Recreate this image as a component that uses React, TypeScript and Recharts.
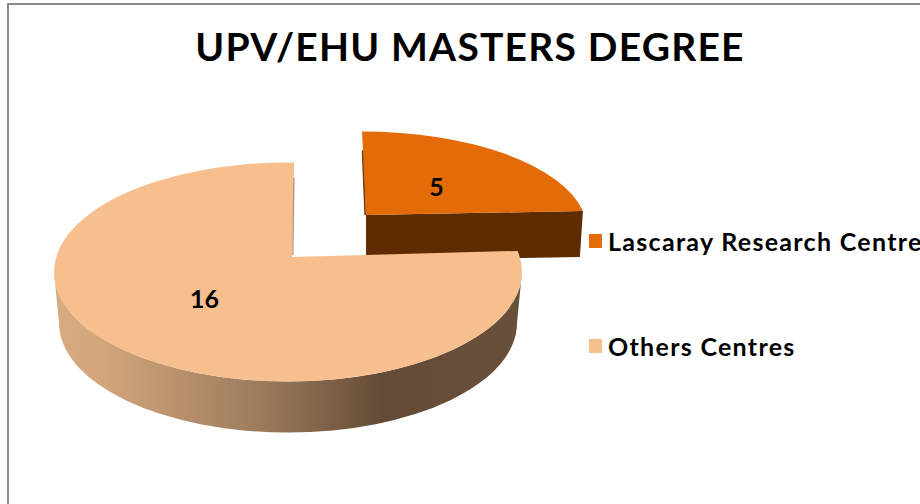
import React from "react";
import { PieChart, Pie, Legend } from "recharts";

const categories = ["Lascaray Research Centres", "Others Centres"];
const values = [5, 16];
const fills = ["#e36c09", "#f7bf8e"];
const titleText = "UPV/EHU MASTERS DEGREE";

const rows = categories.map((name, i) => ({ name, value: values[i], fill: fills[i] }));

const FONT = "Lato, sans-serif";
const RY_RATIO = 110 / 235;
const DEPTH = 51;

const explode = [
  { dx: 74, dy: -42, k: 0.962, ryk: 0.9 },
  { dx: 0, dy: 0, k: 1, ryk: 1 },
];

function geometry(props: any, index: number) {
  const e = explode[index] ?? explode[1];
  const cx = props.cx + e.dx;
  const cy = props.cy + e.dy;
  const rx = props.outerRadius * e.k;
  const ry = props.outerRadius * RY_RATIO * e.ryk;
  const apex = { x: props.cx + e.dx + 4, y: props.cy + e.dy - 15 };
  const point = (rechartsAngle: number) => {
    const a = 90 - rechartsAngle;
    const r = (a * Math.PI) / 180;
    const t = ((a - 7.2 * Math.sin(r) + 1.5 * (a / 360)) * Math.PI) / 180;
    return { x: cx + rx * Math.sin(t), y: cy - ry * Math.cos(t) };
  };
  return { cx, cy, rx, ry, apex, point };
}

function Slice3D(props: any) {
  const index: number = props.index ?? (props.name === categories[0] ? 0 : 1);
  const { cx, cy, rx, ry, apex, point } = geometry(props, index);
  const s = point(props.startAngle);
  const e = point(props.endAngle);
  const large = Math.abs(props.endAngle - props.startAngle) > 180 ? 1 : 0;
  const top = `M${apex.x},${apex.y} L${s.x},${s.y} A${rx},${ry} 0 ${large} 1 ${e.x},${e.y} Z`;

  if (index === 0) {
    return (
      <g>
        <path
          d={`M${apex.x},${apex.y} L${e.x},${e.y} L${e.x - 3},${e.y + 46} L${apex.x},${apex.y + 46} Z`}
          fill="#5e2c00"
        />
        <path
          d={`M${s.x - 0.3},${s.y + 19} L${apex.x - 1.6},${apex.y} L${apex.x},${apex.y} L${s.x + 2},${s.y + 19} Z`}
          fill="#6b3a10"
        />
        <path d={top} fill={props.fill} />
      </g>
    );
  }

  const brx = rx - 5;
  const wall = `M${cx + rx},${cy} A${rx},${ry} 0 0 1 ${cx - rx},${cy} L${cx - brx},${cy + DEPTH} A${brx},${ry} 0 0 0 ${cx + brx},${cy + DEPTH} Z`;
  return (
    <g>
      <defs>
        <linearGradient id="wallShade" x1="0" y1="0" x2="1" y2="0">
          <stop offset="0" stopColor="#d9ab81" />
          <stop offset="0.1" stopColor="#d3a67c" />
          <stop offset="0.45" stopColor="#9a7a5b" />
          <stop offset="0.7" stopColor="#654b36" />
          <stop offset="1" stopColor="#69503a" />
        </linearGradient>
      </defs>
      <path d={wall} fill="url(#wallShade)" />
      <path d={top} fill={props.fill} />
      <path
        d={`M${apex.x + 0.8},${apex.y - 2} L${e.x - 0.2},${e.y + 15}`}
        stroke="#b8977a"
        strokeWidth={1.4}
        fill="none"
      />
    </g>
  );
}

const labelReach = [
  { x: 0.46, y: 0.4 },
  { x: 0.55, y: 0.51 },
];

function sliceLabel(props: any) {
  const index: number = props.index;
  const { rx, ry, apex } = geometry(props, index);
  const a = ((90 - props.midAngle) * Math.PI) / 180;
  const reach = labelReach[index];
  return (
    <text
      x={apex.x + reach.x * rx * Math.sin(a)}
      y={apex.y - reach.y * ry * Math.cos(a)}
      textAnchor="middle"
      dominantBaseline="central"
      fontFamily={FONT}
      fontWeight={700}
      fontSize={25}
      fill="#000"
    >
      {props.value}
    </text>
  );
}

function LegendList({ payload }: any) {
  return (
    <div style={{ fontFamily: FONT, fontWeight: 700, fontSize: 25, letterSpacing: 1.3, color: "#000" }}>
      {(payload ?? []).map((item: any, i: number) => (
        <div
          key={item.value}
          style={{ display: "flex", alignItems: "center", height: 30, marginBottom: i === 0 ? 75 : 0, whiteSpace: "nowrap" }}
        >
          <span style={{ width: 13, height: 14, background: fills[i], marginRight: 6, flex: "none" }} />
          <span>{item.value}</span>
        </div>
      ))}
    </div>
  );
}

export default function App() {
  return (
    <div style={{ position: "absolute", left: 0, top: 0, width: 920, height: 504, overflow: "hidden", background: "#fff" }}>
      <div
        style={{
          position: "absolute",
          left: 7,
          top: 3,
          width: 930,
          height: 520,
          border: "2px solid #8a8a8a",
          boxSizing: "border-box",
        }}
      />
      <div style={{ position: "absolute", left: 0, top: 0 }}>
        <PieChart width={920} height={504} margin={{ top: 0, right: 0, bottom: 0, left: 0 }}>
          <text
            x={470}
            y={61}
            textAnchor="middle"
            fontFamily={FONT}
            fontWeight={700}
            fontSize={39}
            letterSpacing={1.2}
            fill="#000"
          >
            {titleText}
          </text>
          <Pie
            data={rows}
            dataKey="value"
            nameKey="name"
            cx={288}
            cy={272}
            outerRadius={234}
            startAngle={90}
            endAngle={-270}
            paddingAngle={0}
            stroke="none"
            isAnimationActive={false}
            shape={Slice3D}
            label={sliceLabel}
            labelLine={false}
          />
          <Legend
            layout="vertical"
            align="right"
            verticalAlign="top"
            content={<LegendList />}
            wrapperStyle={{ left: 589, right: "auto", top: 226, width: 340 }}
          />
        </PieChart>
      </div>
    </div>
  );
}
